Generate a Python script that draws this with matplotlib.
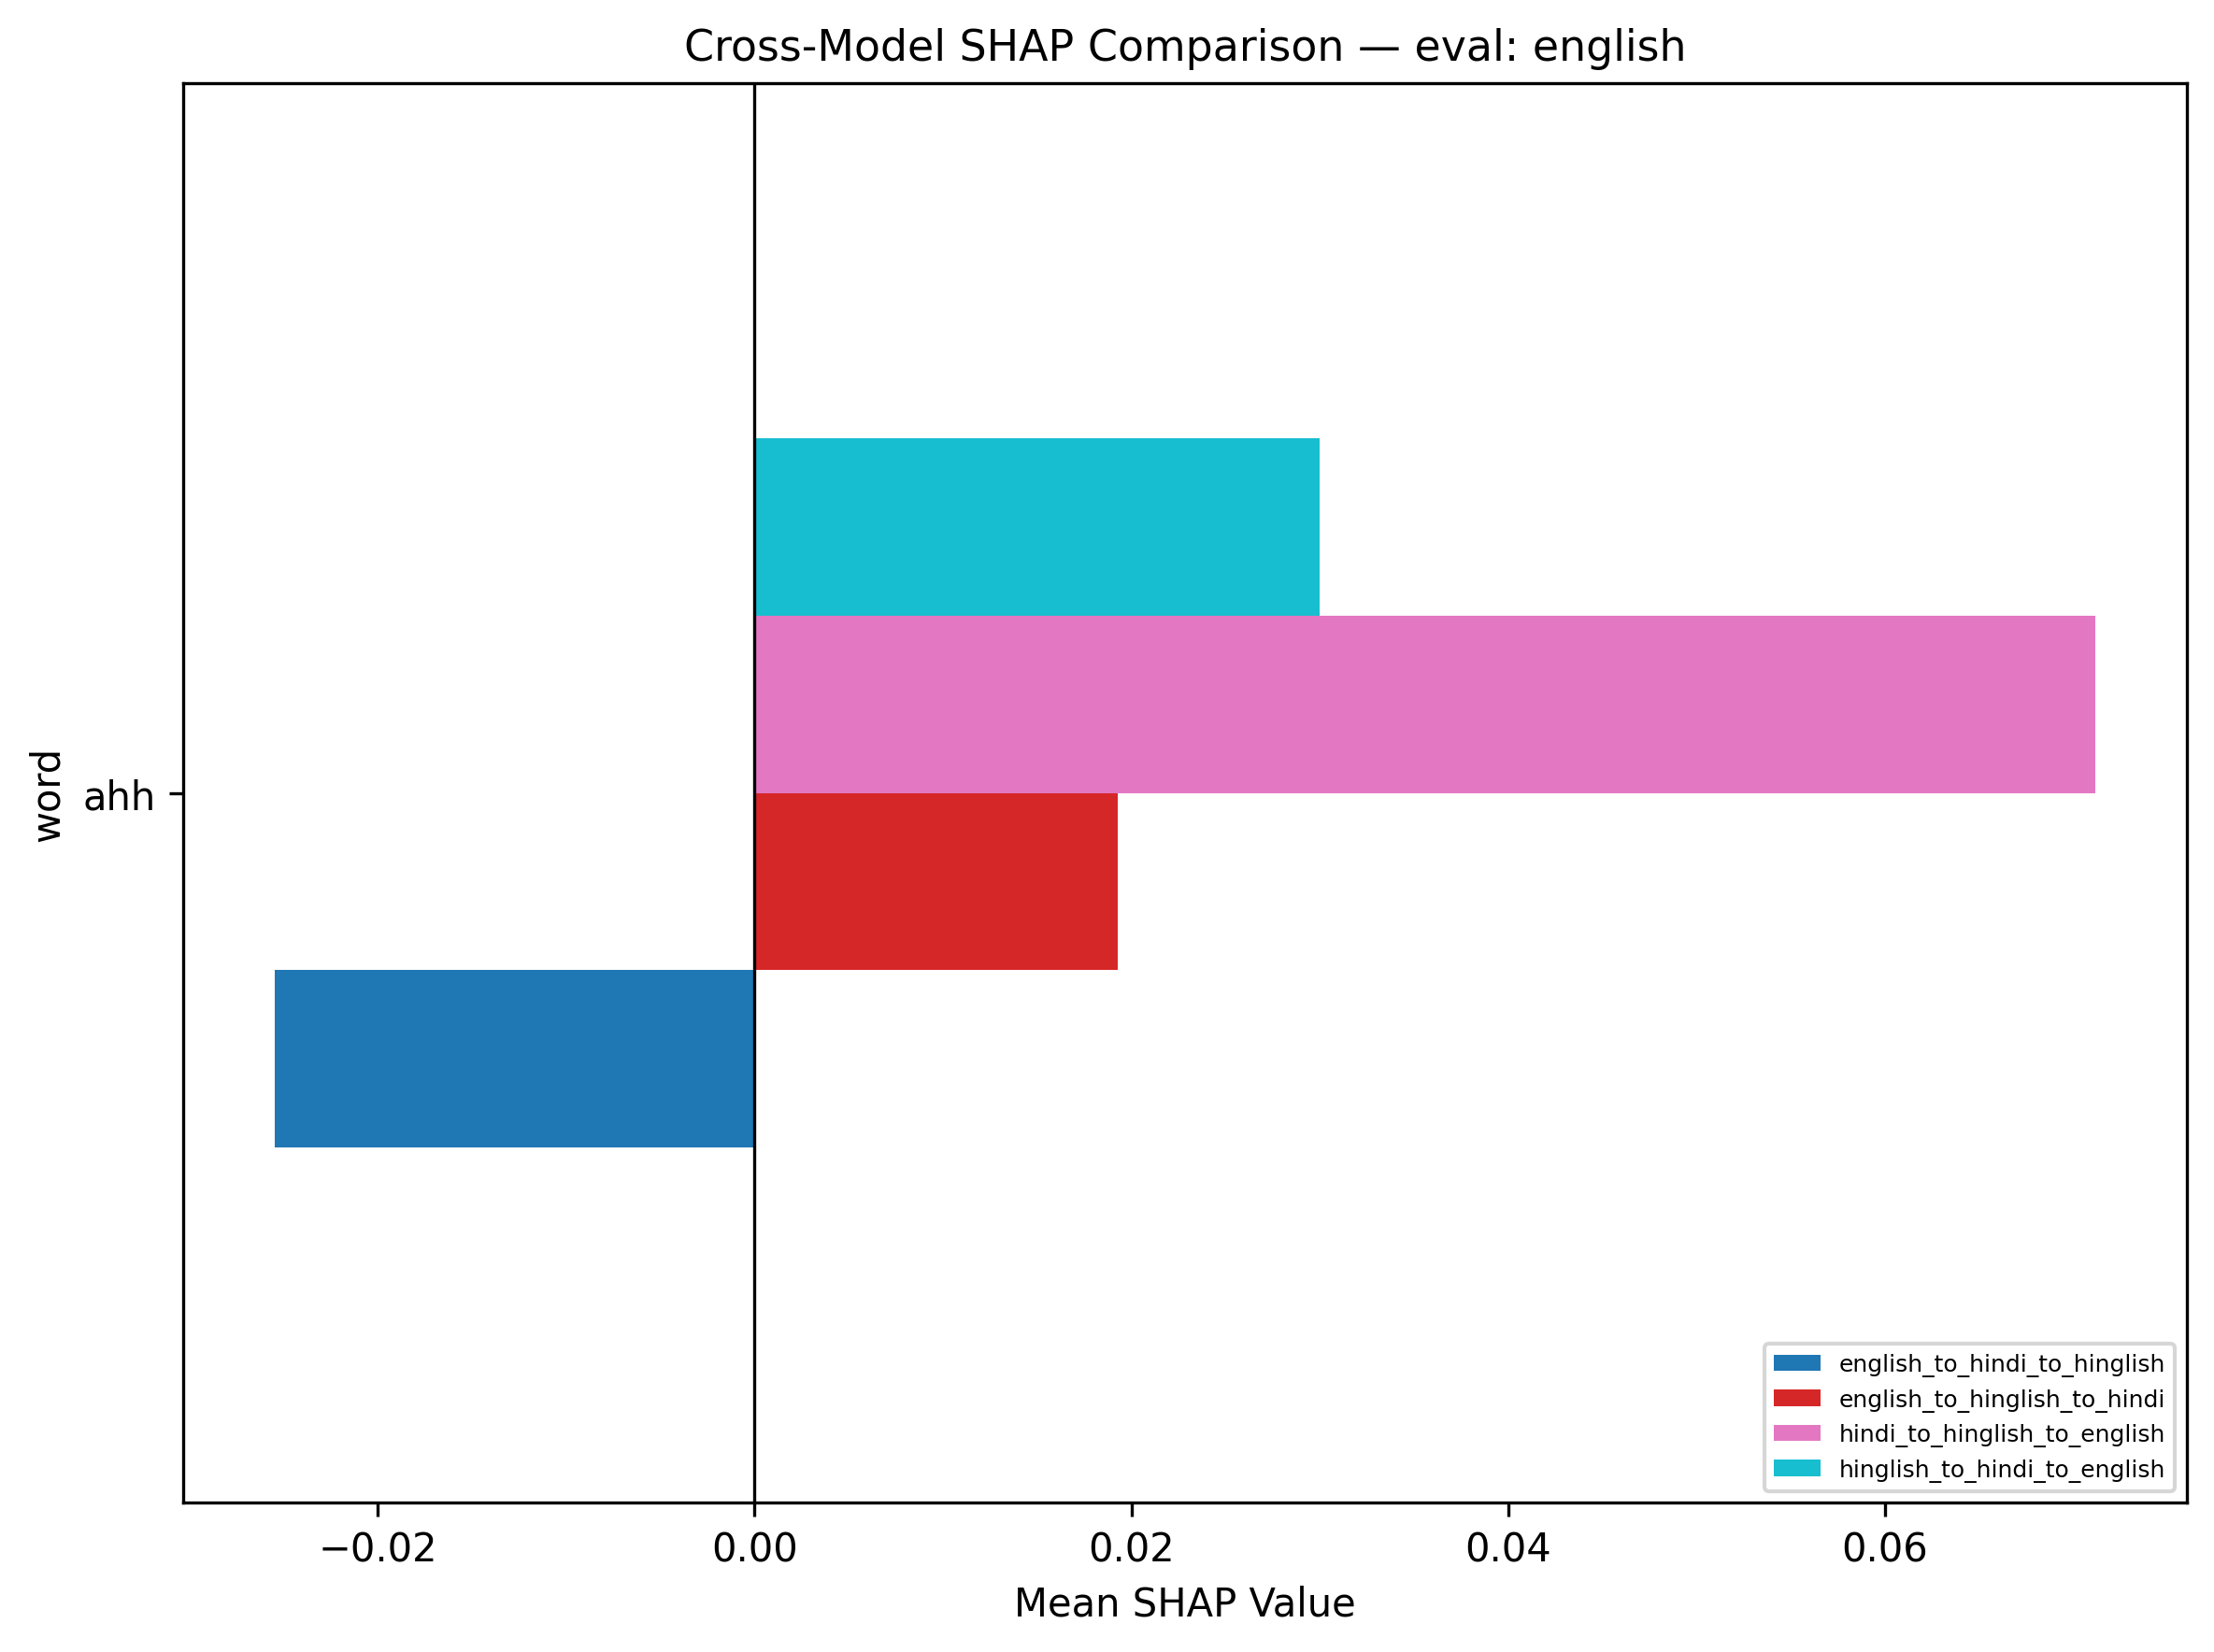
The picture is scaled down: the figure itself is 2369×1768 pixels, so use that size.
import pandas as pd
import matplotlib
matplotlib.use("Agg")
import matplotlib.pyplot as plt

words = ["ahh"]
models = [
    "english_to_hindi_to_hinglish",
    "english_to_hinglish_to_hindi",
    "hindi_to_hinglish_to_english",
    "hinglish_to_hindi_to_english",
]
english_to_hindi_to_hinglish = [-0.0255]
english_to_hinglish_to_hindi = [0.0193]
hindi_to_hinglish_to_english = [0.0712]
hinglish_to_hindi_to_english = [0.0300]

df = pd.DataFrame({
    models[0]: english_to_hindi_to_hinglish,
    models[1]: english_to_hinglish_to_hindi,
    models[2]: hindi_to_hinglish_to_english,
    models[3]: hinglish_to_hindi_to_english,
}, index=words)
df.index.name = "word"

fig, ax = plt.subplots(figsize=(8, 6))
df.plot.barh(ax=ax, colormap="tab10")
ax.axvline(0, color="black", linewidth=0.8)
ax.set_title("Cross-Model SHAP Comparison — eval: english", fontsize=11)
ax.set_xlabel("Mean SHAP Value")
ax.legend(loc="lower right", fontsize=6)
plt.tight_layout()
plt.savefig("out.png", dpi=300, bbox_inches="tight")
